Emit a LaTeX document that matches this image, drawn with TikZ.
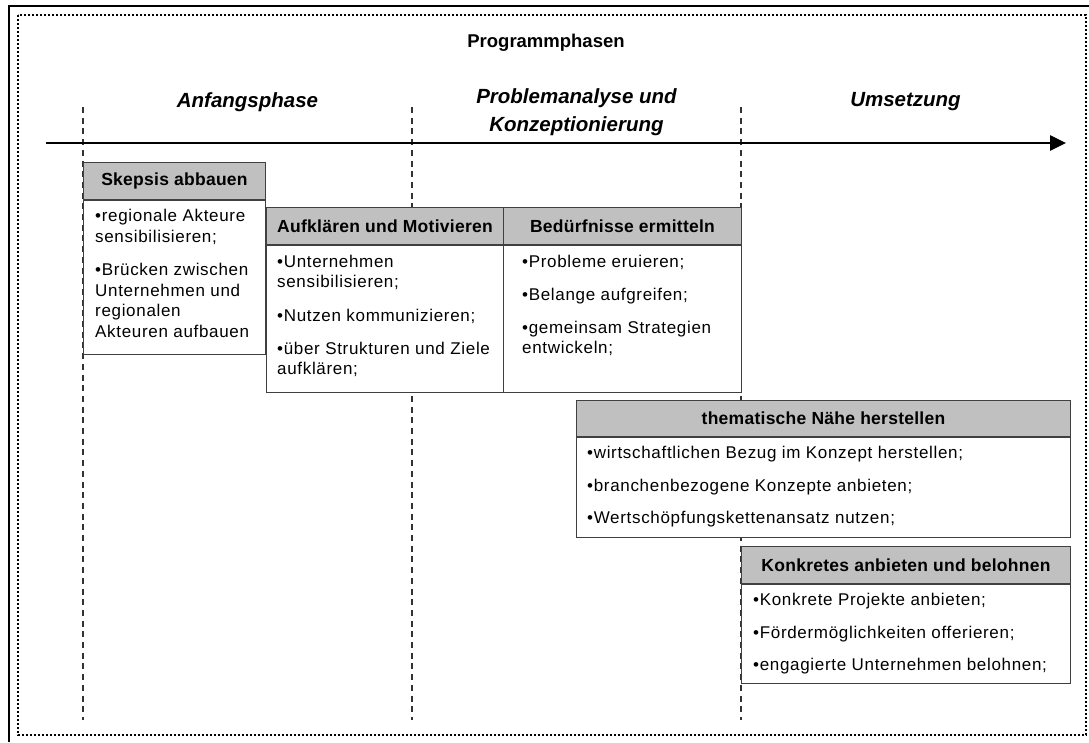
\documentclass[tikz,border=0pt]{standalone}
\usepackage{fontspec}
\setmainfont{Liberation Sans}
\newfontfamily\bodyfont[LetterSpace=4]{Liberation Sans}
\newfontfamily\headfont[LetterSpace=1.5]{Liberation Sans}
\usetikzlibrary{arrows.meta}
\definecolor{hdrgray}{HTML}{C0C0C0}
\definecolor{boxline}{HTML}{404040}
\begin{document}
\begin{tikzpicture}[x=1pt,y=-1pt,
  boxhead/.style={draw=boxline, fill=hdrgray, line width=1pt, anchor=north west, inner sep=0pt,
    font=\headfont\bfseries\fontsize{17.5}{20}\selectfont},
  boxbody/.style={draw=boxline, fill=white, line width=1pt, anchor=north west, inner sep=0pt},
  bodytext/.style={anchor=north west, inner sep=0pt, align=left,
    font=\bodyfont\fontsize{17}{20}\selectfont},
  phaselabel/.style={font=\bfseries\itshape\fontsize{20.5}{28}\selectfont, align=center, inner sep=0pt},
  divider/.style={dash pattern=on 6pt off 4.7pt, line width=1.6pt, draw=black!80},
]
\useasboundingbox (0,0) rectangle (1089,742);
% frames
\draw[line width=2pt] (9,742) -- (9,6) -- (1089,6);
\draw[line width=2.2pt, dash pattern=on 2.2pt off 1.8pt] (18,15) rectangle (1086,735);
% title and phases
\node[font=\bfseries\fontsize{18.5}{20}\selectfont] (title) at (546,43) {Programmphasen};
\node[phaselabel] (p1) at (247.5,102) {Anfangsphase};
\node[phaselabel] (p2) at (576.5,112) {Problemanalyse und\\Konzeptionierung};
\node[phaselabel] (p3) at (905.5,102) {Umsetzung};
% dividers
\coordinate (d1t) at (83,107);  \coordinate (d1b) at (83,720);
\coordinate (d2t) at (412,107); \coordinate (d2b) at (412,720);
\coordinate (d3t) at (741,107); \coordinate (d3b) at (741,720);
\draw[divider] (d1t) -- (d1b);
\draw[divider] (d2t) -- (d2b);
\draw[divider] (d3t) -- (d3b);
% time arrow
\coordinate (as) at (46,143);
\coordinate (ae) at (1066,143);
\draw[line width=2.6pt, -{Triangle[length=16pt,width=15pt]}] (as) -- (ae);
% box 1
\node[boxhead, minimum width=182pt, minimum height=37pt] (h1) at (83,162) {Skepsis abbauen};
\node[boxbody, minimum width=182pt, minimum height=154pt] (b1) at (h1.south west) {};
\node[bodytext, font=\bodyfont\fontsize{17}{20.6}\selectfont] (t1) at (95,209)
  {•regionale Akteure\\sensibilisieren;\\[13pt]•Brücken zwischen\\Unternehmen und\\regionalen\\Akteuren aufbauen};
% box 2
\node[boxhead, minimum width=237pt, minimum height=37pt] (h2) at (266,207) {Aufklären und Motivieren};
\node[boxbody, minimum width=237pt, minimum height=147pt] (b2) at (h2.south west) {};
\node[bodytext] (t2) at (277,255)
  {•Unternehmen\\sensibilisieren;\\[14pt]•Nutzen kommunizieren;\\[13pt]•über Strukturen und Ziele\\aufklären;};
% box 3
\node[boxhead, minimum width=238pt, minimum height=37pt] (h3) at (503,207) {Bedürfnisse ermitteln};
\node[boxbody, minimum width=238pt, minimum height=147pt] (b3) at (h3.south west) {};
\node[bodytext] (t3) at (522,255)
  {•Probleme eruieren;\\[13pt]•Belange aufgreifen;\\[13pt]•gemeinsam Strategien\\entwickeln;};
% box 4
\node[boxhead, minimum width=494pt, minimum height=36pt] (h4) at (576,400) {thematische Nähe herstellen};
\node[boxbody, minimum width=494pt, minimum height=100pt] (b4) at (h4.south west) {};
\node[bodytext] (t4) at (587,446)
  {•wirtschaftlichen Bezug im Konzept herstellen;\\[13pt]•branchenbezogene Konzepte anbieten;\\[12pt]•Wertschöpfungskettenansatz nutzen;};
% box 5
\node[boxhead, minimum width=329pt, minimum height=37pt] (h5) at (741,546) {Konkretes anbieten und belohnen};
\node[boxbody, minimum width=329pt, minimum height=99pt] (b5) at (h5.south west) {};
\node[bodytext] (t5) at (753,593)
  {•Konkrete Projekte anbieten;\\[13pt]•Fördermöglichkeiten offerieren;\\[12pt]•engagierte Unternehmen belohnen;};
\end{tikzpicture}
\end{document}
